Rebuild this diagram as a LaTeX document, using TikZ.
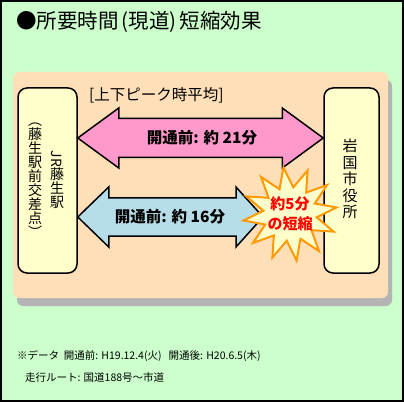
\documentclass[tikz,border=0pt]{standalone}
\usepackage{fontspec}
\newfontfamily\jpfont{Noto Sans CJK JP}
\usepackage{graphicx}
\usetikzlibrary{positioning, calc, shapes.geometric}
\definecolor{bggreen}{HTML}{CCFFCC}
\definecolor{panelpeach}{HTML}{FFDFB8}
\definecolor{shadowgray}{HTML}{B4B4B4}
\definecolor{boxcream}{HTML}{FFFFCC}
\definecolor{arrowpink}{HTML}{FF99CC}
\definecolor{arrowblue}{HTML}{B7DDE8}
\definecolor{burstorange}{HTML}{FF9900}
\definecolor{burstred}{HTML}{FF0000}

\begin{document}
\begin{tikzpicture}[
    x=1pt, y=1pt,
    every node/.style={font=\jpfont, inner sep=0pt},
    endbox/.style={
        draw, line width=1.5pt, rounded corners=9pt, fill=boxcream,
        minimum height=185pt
    },
    vtext/.style={align=center, font=\jpfont\fontsize{14}{14}\selectfont},
    bigarrow/.style={draw, line width=1.5pt, line join=miter},
    arrow label/.style={font=\jpfont\bfseries\fontsize{15.5}{18}\selectfont},
    burst/.style={
        star, star points=12, star point ratio=1.75, minimum size=94pt,
        draw=burstorange, line width=2pt, fill=boxcream
    },
    note/.style={font=\jpfont\fontsize{10.5}{12}\selectfont, anchor=west},
]
\useasboundingbox (0,0) rectangle (404,402);

% === Background ===
\fill[bggreen] (0,0) rectangle (404,402);
\draw[line width=2pt] (1,1) rectangle (403,401);

% === Title ===
\node[anchor=west, font=\jpfont\fontsize{20.5}{22}\selectfont] (title) at (16,380)
    {●所要時間\hspace{3pt}(現道)\hspace{3pt}短縮効果};

% === Panel with shadow ===
\fill[shadowgray, rounded corners=6pt] (17,96) rectangle (392,322);
\fill[panelpeach, rounded corners=6pt] (13,104) rectangle (388,330);

% === End points ===
\node[endbox, minimum width=59pt] (jr) at (47.5,221.5) {};
\node[endbox, minimum width=55pt] (city) at (351.5,221.5) {};

\node[vtext] (jrname) at (57,222)
    {\rotatebox[origin=c]{-90}{JR}\\藤\\生\\駅};
\node[vtext] (jrcross) at (35,222)
    {︵\\藤\\生\\駅\\前\\交\\差\\点\\︶};
\node[vtext, font=\jpfont\fontsize{15}{16.5}\selectfont] (cityname) at (350,223)
    {岩\\国\\市\\役\\所};

% === Peak label ===
\node[anchor=west, font=\jpfont\fontsize{15.5}{18}\selectfont] (peak) at (89,307)
    {[上下ピーク時平均]};

% === Pink arrow (before) ===
\coordinate (pinkL) at (jr.east |- 0,264);
\coordinate (pinkR) at (city.west |- 0,264);
\draw[bigarrow, fill=arrowpink]
    (pinkL) -- ($(pinkL)+(41,30)$) -- ($(pinkL)+(41,19.5)$)
    -- ($(pinkR)+(-41,19.5)$) -- ($(pinkR)+(-41,30)$) -- (pinkR)
    -- ($(pinkR)+(-41,-30)$) -- ($(pinkR)+(-41,-19.5)$)
    -- ($(pinkL)+(41,-19.5)$) -- ($(pinkL)+(41,-30)$) -- cycle;
\node[arrow label] (pinktext) at (202,264) {開通前: 約 21分};

% === Blue arrow (after) ===
\coordinate (blueL) at (jr.east |- 0,185);
\coordinate (blueR) at (263,185);
\draw[bigarrow, fill=arrowblue]
    (blueL) -- ($(blueL)+(31,30)$) -- ($(blueL)+(31,19)$)
    -- ($(blueR)+(-27,19)$) -- ($(blueR)+(-27,30)$) -- (blueR)
    -- ($(blueR)+(-27,-30)$) -- ($(blueR)+(-27,-19)$)
    -- ($(blueL)+(31,-19)$) -- ($(blueL)+(31,-30)$) -- cycle;
\node[arrow label] (bluetext) at (170,185) {開通前: 約 16分};

% === Burst ===
\node[burst, rotate=8] (saving) at (290,188) {};
\node[align=center, text=burstred,
      font=\jpfont\bfseries\fontsize{15}{20}\selectfont] (savingtext) at (saving)
    {約5分\\の短縮};

% === Notes ===
\node[note] (note1) at (17,46)
    {※データ\ \ 開通前: H19.12.4(火)\ \ \ 開通後: H20.6.5(木)};
\node[note] (note2) at (25,25) {走行ルート: 国道188号～市道};

\end{tikzpicture}
\end{document}
